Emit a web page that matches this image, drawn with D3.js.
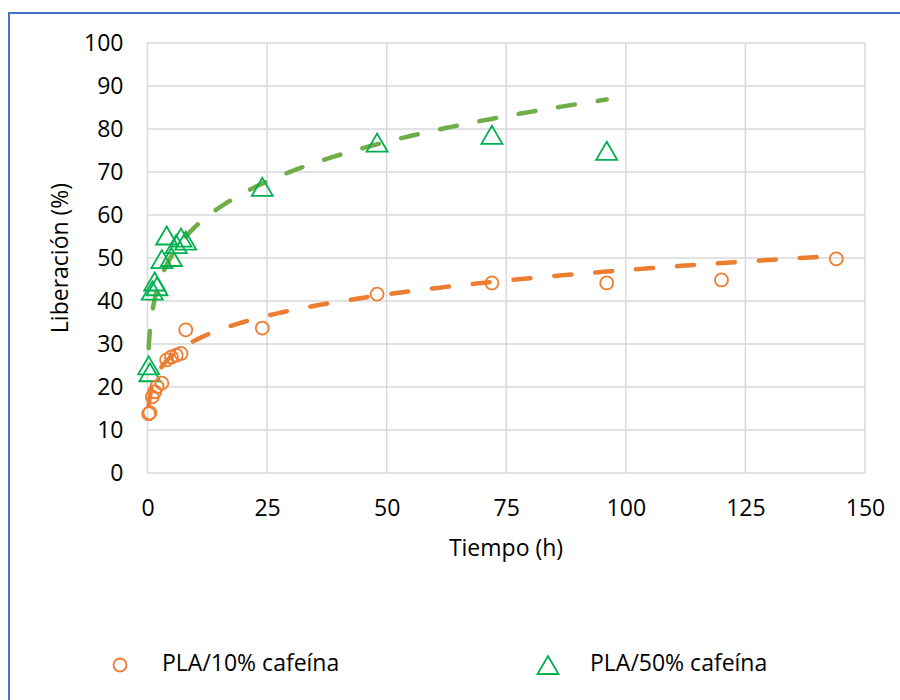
<!DOCTYPE html>
<html><head><meta charset="utf-8">
<script src="https://cdn.jsdelivr.net/npm/d3@7"></script>
<style>html,body{margin:0;padding:0;background:#fff;}svg{display:block;}</style>
</head><body>
<svg id="chart" width="900" height="700"></svg>
<script>
// ---- data ----
const timesA = [0.25, 0.5, 1, 1.5, 2, 3, 4, 5, 6, 7, 8, 24, 48, 72, 96, 120, 144];
const valuesA = [13.8, 14.0, 17.7, 18.9, 20.1, 20.9, 26.3, 27.0, 27.4, 27.8, 33.3, 33.7, 41.6, 44.2, 44.2, 44.9, 49.8];
const timesB = [0.25, 0.5, 1, 1.5, 2, 3, 4, 5, 6, 7, 8, 24, 48, 72, 96];
const valuesB = [24.8, 23.2, 42.2, 44.3, 43.2, 49.5, 55.0, 50.0, 53.0, 54.5, 53.8, 66.3, 76.6, 78.4, 74.7];
const trendA = {a: 20.2, b: 0.1843};   // power trendline y = a*t^b
const trendB = {a: 37.5, b: 0.184};
const xTicks = [0, 25, 50, 75, 100, 125, 150];
const yTicks = [0, 10, 20, 30, 40, 50, 60, 70, 80, 90, 100];
const seriesNames = ["PLA/10% cafeína", "PLA/50% cafeína"];
const xTitle = "Tiempo (h)";
const yTitle = "Liberación (%)";

const svg = d3.select("#chart");
const font = "'Open Sans', sans-serif";
const fs = 23;
const L = 147.5, R = 865, T = 43, B = 473;
const x = d3.scaleLinear().domain([0, 150]).range([L, R]);
const y = d3.scaleLinear().domain([0, 100]).range([B, T]);

// outer frame
svg.append("rect").attr("x", 9).attr("y", 13).attr("width", 900).attr("height", 700)
  .attr("fill", "none").attr("stroke", "#4472C4").attr("stroke-width", 2);

// grid
const grid = svg.append("g").attr("stroke", "#D9D9D9").attr("stroke-width", 1.5);
yTicks.forEach(v => grid.append("line").attr("x1", L).attr("x2", R).attr("y1", y(v)).attr("y2", y(v)));
xTicks.forEach(v => grid.append("line").attr("x1", x(v)).attr("x2", x(v)).attr("y1", T).attr("y2", B));

// axes
const xAxis = svg.append("g").attr("transform", `translate(0,${B})`)
  .call(d3.axisBottom(x).tickValues(xTicks).tickSize(0).tickPadding(22));
const yAxis = svg.append("g").attr("transform", `translate(${L},0)`)
  .call(d3.axisLeft(y).tickValues(yTicks).tickSize(0).tickPadding(24));
[xAxis, yAxis].forEach(g => {
  g.select(".domain").remove();
  g.selectAll("text").attr("font-family", font).attr("font-size", fs).attr("fill", "#000");
});
xAxis.selectAll("text").attr("dy", "0.35em").attr("y", 35);

// titles
svg.append("text").attr("x", 506).attr("y", 550).attr("text-anchor", "middle").attr("dominant-baseline", "middle")
  .attr("font-family", font).attr("font-size", fs).text(xTitle);
svg.append("text").attr("transform", `translate(62,${(T + B) / 2}) rotate(-90)`).attr("text-anchor", "middle")
  .attr("dominant-baseline", "middle").attr("font-family", font).attr("font-size", fs).text(yTitle);

// trendlines
function trendPts(tr, t0, t1) {
  const pts = [];
  const n = 400;
  for (let i = 0; i <= n; i++) {
    const t = t0 * Math.pow(t1 / t0, i / n);
    pts.push([t, tr.a * Math.pow(t, tr.b)]);
  }
  return pts;
}
const line = d3.line().x(d => x(d[0])).y(d => y(d[1]));
svg.append("path").datum(trendPts(trendA, d3.min(timesA), d3.max(timesA))).attr("d", line)
  .attr("fill", "none").attr("stroke", "#ED7D31").attr("stroke-width", 4.5)
  .attr("stroke-linecap", "round").attr("stroke-dasharray", "17,24");
svg.append("path").datum(trendPts(trendB, d3.min(timesB), d3.max(timesB))).attr("d", line)
  .attr("fill", "none").attr("stroke", "#70AD47").attr("stroke-width", 4.5)
  .attr("stroke-linecap", "round").attr("stroke-dasharray", "17,23");

// markers
const triPath = "M0,-10L10.5,8L-10.5,8Z";
svg.append("g").selectAll("path").data(timesB.map((t, i) => [t, valuesB[i]])).join("path")
  .attr("d", triPath).attr("transform", d => `translate(${x(d[0])},${y(d[1])})`)
  .attr("fill", "none").attr("stroke", "#00B050").attr("stroke-width", 1.8);
svg.append("g").selectAll("circle").data(timesA.map((t, i) => [t, valuesA[i]])).join("circle")
  .attr("cx", d => x(d[0])).attr("cy", d => y(d[1])).attr("r", 6.5)
  .attr("fill", "none").attr("stroke", "#ED7D31").attr("stroke-width", 1.8);

// legend
const ly = 665;
svg.append("circle").attr("cx", 120).attr("cy", ly).attr("r", 6.5)
  .attr("fill", "none").attr("stroke", "#ED7D31").attr("stroke-width", 1.8);
svg.append("text").attr("x", 162).attr("y", ly).attr("dominant-baseline", "middle")
  .attr("font-family", font).attr("font-size", fs).text(seriesNames[0]);
svg.append("path").attr("d", triPath).attr("transform", `translate(548,${ly + 1})`)
  .attr("fill", "none").attr("stroke", "#00B050").attr("stroke-width", 1.8);
svg.append("text").attr("x", 590).attr("y", ly).attr("dominant-baseline", "middle")
  .attr("font-family", font).attr("font-size", fs).text(seriesNames[1]);
</script>
</body></html>
